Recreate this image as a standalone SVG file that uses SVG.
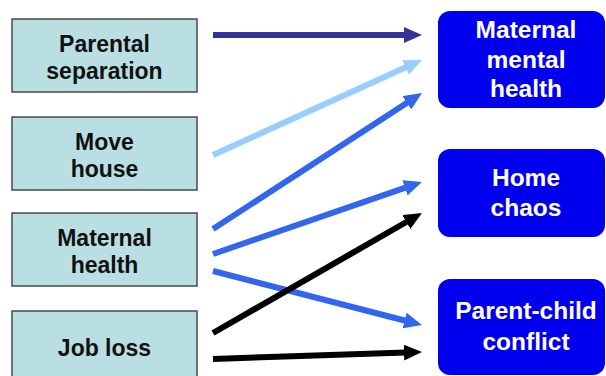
<svg xmlns="http://www.w3.org/2000/svg" width="606" height="376" viewBox="0 0 606 376">
<style>
.src rect{fill:#b9dfe3;stroke:#4a4a4a;stroke-width:1.5}
.src text{font-family:"Liberation Sans",Arial,sans-serif;font-weight:bold;font-size:23px;fill:#111;text-anchor:middle}
.dst rect{fill:#0000ee}
.dst text{font-family:"Liberation Sans",Arial,sans-serif;font-weight:bold;font-size:24.5px;fill:#fff;text-anchor:middle}
.c line{stroke-width:6;fill:none}
</style>
<defs>
<marker id="mNavy" markerUnits="userSpaceOnUse" markerWidth="18" markerHeight="16" refX="2" refY="8" orient="auto"><path d="M0,0 L18,8 L0,16 z" fill="#333399"/></marker>
<marker id="mLight" markerUnits="userSpaceOnUse" markerWidth="18" markerHeight="16" refX="2" refY="8" orient="auto"><path d="M0,0 L18,8 L0,16 z" fill="#99ccff"/></marker>
<marker id="mBlue" markerUnits="userSpaceOnUse" markerWidth="18" markerHeight="16" refX="2" refY="8" orient="auto"><path d="M0,0 L18,8 L0,16 z" fill="#3366ee"/></marker>
<marker id="mBlack" markerUnits="userSpaceOnUse" markerWidth="18" markerHeight="16" refX="2" refY="8" orient="auto"><path d="M0,0 L18,8 L0,16 z" fill="#000"/></marker>
</defs>
<rect width="606" height="376" fill="#fff"/>
<g id="n-parental" class="src"><rect x="12" y="19" width="185" height="73"/><text x="104.5" y="52">Parental</text><text x="104.5" y="79">separation</text></g>
<g id="n-move" class="src"><rect x="12" y="117" width="185" height="73"/><text x="104.5" y="150">Move</text><text x="104.5" y="177">house</text></g>
<g id="n-mhealth" class="src"><rect x="12" y="213" width="185" height="73"/><text x="104.5" y="246">Maternal</text><text x="104.5" y="273">health</text></g>
<g id="n-job" class="src"><rect x="12" y="311" width="185" height="73"/><text x="104.5" y="356">Job loss</text></g>
<g id="n-mmh" class="dst"><rect x="438" y="11" width="167" height="97" rx="12"/><text x="526" y="38">Maternal</text><text x="526" y="68">mental</text><text x="526" y="97">health</text></g>
<g id="n-chaos" class="dst"><rect x="438" y="149" width="167" height="88" rx="12"/><text x="526" y="186">Home</text><text x="526" y="216">chaos</text></g>
<g id="n-conflict" class="dst"><rect x="438" y="279" width="167" height="96" rx="12"/><text x="526" y="319">Parent-child</text><text x="526" y="350">conflict</text></g>
<g id="connectors" class="c">
<line x1="213" y1="35" x2="406" y2="35" stroke="#333399" marker-end="url(#mNavy)"/>
<line x1="213" y1="155" x2="407.4" y2="66.6" stroke="#99ccff" marker-end="url(#mLight)"/>
<line x1="213" y1="229" x2="408.6" y2="101.7" stroke="#3366ee" marker-end="url(#mBlue)"/>
<line x1="213" y1="254" x2="406.9" y2="187.2" stroke="#3366ee" marker-end="url(#mBlue)"/>
<line x1="213" y1="271" x2="406.5" y2="321" stroke="#3366ee" marker-end="url(#mBlue)"/>
<line x1="213" y1="333" x2="408.1" y2="221" stroke="#000" marker-end="url(#mBlack)"/>
<line x1="213" y1="359" x2="406" y2="352.5" stroke="#000" marker-end="url(#mBlack)"/>
</g>
</svg>
